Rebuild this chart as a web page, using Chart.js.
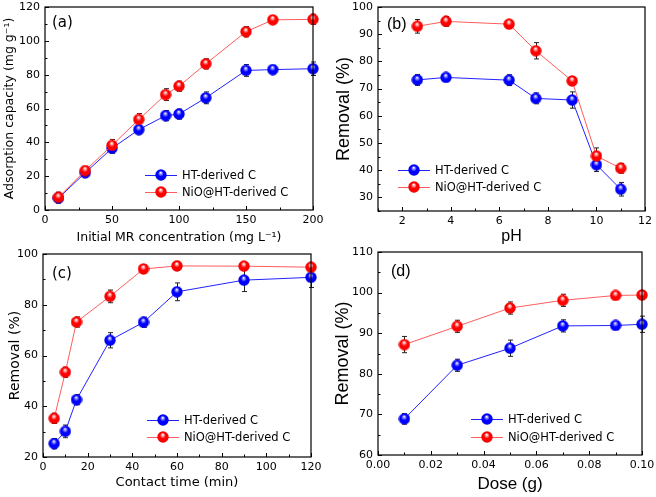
<!DOCTYPE html>
<html>
<head>
<meta charset="utf-8">
<script src="https://cdn.jsdelivr.net/npm/chart.js@4.4.1/dist/chart.umd.min.js"></script>
<style>
  html, body { margin: 0; padding: 0; background: #fff; }
  #wrap { position: relative; width: 656px; height: 497px; }
  canvas { position: absolute; }
</style>
</head>
<body>
<div id="wrap">
  <canvas id="chartA" width="326" height="245" style="left:0px;top:0px"></canvas>
  <canvas id="chartB" width="330" height="245" style="left:326px;top:0px"></canvas>
  <canvas id="chartC" width="326" height="252" style="left:0px;top:245px"></canvas>
  <canvas id="chartD" width="330" height="252" style="left:326px;top:245px"></canvas>
</div>
<script>
const legendNames = ["HT-derived C", "NiO@HT-derived C"];

/* (a) initial MR concentration */
const concA = [10, 30, 50, 70, 90, 100, 120, 150, 170, 200];
const htA = [7, 22, 36.5, 47.5, 55.8, 56.7, 66.3, 82.5, 83, 83.5];
const htAErr = [3, 2.5, 3, 2.5, 3, 3, 3.5, 3.5, 2.5, 4];
const nioA = [7.5, 23.3, 38.2, 53.5, 68.2, 73.2, 86.4, 105.4, 112.4, 112.7];
const nioAErr = [3, 2.5, 3.5, 3.5, 3.5, 3, 3, 3, 2, 3];
const xTicksA = [0, 50, 100, 150, 200];
const yTicksA = [0, 20, 40, 60, 80, 100, 120];

/* (b) pH */
const phB = [2.62, 3.8, 6.4, 7.5, 9, 10, 11];
const htB = [73.2, 74.1, 73.1, 66.4, 65.8, 42, 33];
const htBErr = [2, 1.5, 2, 2, 3, 2.5, 2.5];
const nioB = [92.9, 94.7, 93.7, 83.9, 72.8, 45.2, 40.7];
const nioBErr = [2.5, 1.8, 1.2, 3, 1.5, 3, 1.8];
const xTicksB = [2, 4, 6, 8, 10, 12];
const yTicksB = [30, 40, 50, 60, 70, 80, 90, 100];

/* (c) contact time */
const timeC = [5, 10, 15, 30, 45, 60, 90, 120];
const htC = [25.3, 30.1, 42.6, 66, 73.1, 85.1, 89.7, 90.8];
const htCErr = [2, 2.5, 2, 3, 2, 3.5, 4.5, 4];
const nioC = [35.2, 53.4, 73.2, 83.3, 94.1, 95.3, 95.2, 94.8];
const nioCErr = [2, 2, 2, 2.5, 1.5, 1.8, 1.5, 1.5];
const xTicksC = [0, 20, 40, 60, 80, 100, 120];
const yTicksC = [20, 40, 60, 80, 100];

/* (d) dose */
const doseD = [0.01, 0.03, 0.05, 0.07, 0.09, 0.10];
const htD = [68.9, 82.1, 86.3, 91.8, 91.9, 92.2];
const htDErr = [1.3, 1.5, 2, 1.5, 1, 2];
const nioD = [87.2, 91.7, 96.2, 98.1, 99.3, 99.4];
const nioDErr = [2, 1.5, 1.5, 1.5, 0.8, 1];
const xTicksD = [0, 0.02, 0.04, 0.06, 0.08, 0.10];
const yTicksD = [60, 70, 80, 90, 100, 110];

const verdana = "'DejaVu Sans', Verdana, sans-serif";
const arial = "'Liberation Sans', Arial, sans-serif";
Chart.defaults.color = "#000";
Chart.defaults.font.family = verdana;

// shaded ball used as point marker
function ball(light, base, dark) {
  const c = document.createElement("canvas");
  c.width = 12; c.height = 12;
  const g = c.getContext("2d");
  const grad = g.createRadialGradient(5.7, 3.6, 0.2, 6, 6, 6.2);
  grad.addColorStop(0, "#ffffff");
  grad.addColorStop(0.18, light);
  grad.addColorStop(0.45, base);
  grad.addColorStop(0.85, base);
  grad.addColorStop(1, dark);
  g.fillStyle = grad;
  g.beginPath();
  g.arc(6, 6, 5.7, 0, Math.PI * 2);
  g.fill();
  return c;
}
const blueBall = ball("#9090ff", "#0000ff", "#0000a0");
const redBall = ball("#ffa0a0", "#ff0000", "#b00000");

function pts(xs, ys) {
  return xs.map((v, i) => ({ x: v, y: ys[i] }));
}

// frame, inward ticks, error bars, legend and panel tag
const panelPlugin = {
  id: "panel",
  beforeDatasetsDraw(chart) {
    const ctx = chart.ctx;
    const { x, y } = chart.scales;
    ctx.save();
    ctx.strokeStyle = "#222";
    ctx.lineWidth = 1;
    chart.data.datasets.forEach((ds) => {
      ds.data.forEach((p, i) => {
        const e = ds.errors[i];
        const px = Math.round(x.getPixelForValue(p.x)) + 0.5;
        const top = y.getPixelForValue(p.y + e);
        const bot = y.getPixelForValue(p.y - e);
        ctx.beginPath();
        ctx.moveTo(px, top); ctx.lineTo(px, bot);
        ctx.moveTo(px - 2.5, top); ctx.lineTo(px + 2.5, top);
        ctx.moveTo(px - 2.5, bot); ctx.lineTo(px + 2.5, bot);
        ctx.stroke();
      });
    });
    ctx.restore();
  },
  afterDraw(chart, args, opts) {
    const ctx = chart.ctx;
    const a = chart.chartArea;
    const { x, y } = chart.scales;
    ctx.save();
    ctx.strokeStyle = "#000";
    ctx.lineWidth = 1.2;
    ctx.strokeRect(a.left, a.top, a.right - a.left, a.bottom - a.top);
    ctx.lineWidth = 1;
    // x ticks
    for (let v = x.min; v <= x.max + 1e-9; v += opts.minorX) {
      const vv = Math.round(v * 1e6) / 1e6;
      const major = x.ticks.some(t => Math.abs(t.value - vv) < 1e-9);
      const px = Math.round(x.getPixelForValue(vv)) + 0.5;
      ctx.beginPath();
      ctx.moveTo(px, a.bottom);
      ctx.lineTo(px, a.bottom - (major ? 4 : 2.5));
      ctx.stroke();
    }
    for (let v = y.min; v <= y.max + 1e-9; v += opts.minorY) {
      const vv = Math.round(v * 1e6) / 1e6;
      const major = y.ticks.some(t => Math.abs(t.value - vv) < 1e-9);
      const py = Math.round(y.getPixelForValue(vv)) + 0.5;
      ctx.beginPath();
      ctx.moveTo(a.left, py);
      ctx.lineTo(a.left + (major ? 4 : 2.5), py);
      ctx.stroke();
    }
    // legend
    const lg = opts.legend;
    chart.data.datasets.forEach((ds, i) => {
      const ry = lg.y + i * lg.gap;
      ctx.strokeStyle = ds.borderColor;
      ctx.lineWidth = 1;
      ctx.beginPath();
      ctx.moveTo(lg.x, ry + 0.5);
      ctx.lineTo(lg.x + 32, ry + 0.5);
      ctx.stroke();
      ctx.drawImage(ds.pointStyle, lg.x + 16 - 6, ry - 6);
      ctx.fillStyle = "#000";
      ctx.font = "11.5px " + verdana;
      ctx.textBaseline = "middle";
      ctx.textAlign = "left";
      ctx.fillText(ds.label, lg.x + 37, ry + 1);
    });
    // panel tag
    ctx.fillStyle = "#000";
    ctx.font = opts.tagFont;
    ctx.textBaseline = "top";
    ctx.fillText(opts.tag, opts.tagX, opts.tagY);
    ctx.restore();
  }
};

function makeChart(id, p) {
  const datasets = [
    { label: legendNames[0], data: pts(p.xs, p.ht), errors: p.htErr, borderColor: "#2222ff", pointStyle: blueBall, order: 1 },
    { label: legendNames[1], data: pts(p.xs, p.nio), errors: p.nioErr, borderColor: "#ff5c5c", pointStyle: redBall, order: 0 },
  ];
  datasets.forEach(d => {
    d.showLine = true;
    d.borderWidth = 1;
    d.pointRadius = 6;
    d.pointHoverRadius = 6;
    d.clip = false;
  });
  return new Chart(document.getElementById(id), {
    type: "scatter",
    data: { datasets: datasets },
    options: {
      responsive: false,
      animation: false,
      events: [],
      layout: { padding: { top: p.padTop, right: p.padRight, bottom: 0, left: 0 } },
      plugins: {
        legend: { display: false },
        tooltip: { enabled: false },
        panel: p.panel,
      },
      scales: {
        x: {
          type: "linear",
          min: p.xMin,
          max: p.xMax,
          afterBuildTicks: s => { s.ticks = p.xTicks.map(v => ({ value: v })); },
          afterFit: s => { s.height = p.xH; s.paddingLeft = 0; s.paddingRight = 0; },
          grid: { display: false, drawTicks: false },
          border: { display: false },
          ticks: { autoSkip: false, maxRotation: 0, padding: 4, font: { size: 11 }, callback: p.xFmt || (v => v) },
          title: { display: true, text: p.xTitle, font: p.xTitleFont, padding: { top: 0, bottom: p.xTitlePad } },
        },
        y: {
          type: "linear",
          min: p.yMin,
          max: p.yMax,
          afterBuildTicks: s => { s.ticks = p.yTicks.map(v => ({ value: v })); },
          afterFit: s => { s.width = p.yW; s.paddingTop = 0; s.paddingBottom = 0; },
          grid: { display: false, drawTicks: false },
          border: { display: false },
          ticks: { autoSkip: false, padding: 5, font: { size: 11 } },
          title: { display: true, text: p.yTitle, font: p.yTitleFont, padding: { top: p.yTitlePad, bottom: 0 } },
        },
      },
    },
    plugins: [panelPlugin],
  });
}

var chartA = makeChart("chartA", {
  xs: concA, ht: htA, htErr: htAErr, nio: nioA, nioErr: nioAErr,
  xMin: 0, xMax: 200, xTicks: xTicksA, yMin: 0, yMax: 120, yTicks: yTicksA,
  padTop: 6, padRight: 13, xH: 35, yW: 45,
  xTitle: "Initial MR concentration (mg L⁻¹)", xTitleFont: { size: 12.5, family: verdana, lineHeight: 1.2 }, xTitlePad: 0,
  yTitle: "Adsorption capacity (mg g⁻¹)", yTitleFont: { size: 12.5, family: verdana, lineHeight: 1.2 }, yTitlePad: 2,
  panel: { minorX: 25, minorY: 10, legend: { x: 145, y: 175, gap: 17 }, tag: "(a)", tagX: 52, tagY: 16, tagFont: "15px " + verdana },
});

var chartB = makeChart("chartB", {
  xs: phB, ht: htB, htErr: htBErr, nio: nioB, nioErr: nioBErr,
  xMin: 1, xMax: 12, xTicks: xTicksB, yMin: 25, yMax: 100, yTicks: yTicksB,
  padTop: 6, padRight: 11, xH: 34, yW: 52,
  xTitle: "pH", xTitleFont: { size: 16, family: arial, lineHeight: 1 }, xTitlePad: 0,
  yTitle: "Removal (%)", yTitleFont: { size: 18, family: arial, lineHeight: 1.2 }, yTitlePad: 7,
  panel: { minorX: 1, minorY: 5, legend: { x: 72, y: 170, gap: 17 }, tag: "(b)", tagX: 61, tagY: 17, tagFont: "16px " + arial },
});

var chartC = makeChart("chartC", {
  xs: timeC, ht: htC, htErr: htCErr, nio: nioC, nioErr: nioCErr,
  xMin: 0, xMax: 120, xTicks: xTicksC, yMin: 20, yMax: 100, yTicks: yTicksC,
  padTop: 9, padRight: 15, xH: 40, yW: 43,
  xTitle: "Contact time (min)", xTitleFont: { size: 13, family: verdana, lineHeight: 1.2 }, xTitlePad: 7,
  yTitle: "Removal (%)", yTitleFont: { size: 14, family: verdana, lineHeight: 1.2 }, yTitlePad: 7,
  panel: { minorX: 10, minorY: 10, legend: { x: 147, y: 175, gap: 17 }, tag: "(c)", tagX: 52, tagY: 22, tagFont: "15px " + verdana },
});

var chartD = makeChart("chartD", {
  xs: doseD, ht: htD, htErr: htDErr, nio: nioD, nioErr: nioDErr,
  xMin: 0, xMax: 0.10, xTicks: xTicksD, yMin: 60, yMax: 110, yTicks: yTicksD,
  padTop: 7, padRight: 14, xH: 42, yW: 52,
  xFmt: v => v.toFixed(2),
  xTitle: "Dose (g)", xTitleFont: { size: 17, family: arial, lineHeight: 1.2 }, xTitlePad: 2,
  yTitle: "Removal (%)", yTitleFont: { size: 18, family: arial, lineHeight: 1.2 }, yTitlePad: 6,
  panel: { minorX: 0.01, minorY: 5, legend: { x: 145, y: 174, gap: 18 }, tag: "(d)", tagX: 65, tagY: 19, tagFont: "16px " + arial },
});
</script>
</body>
</html>
